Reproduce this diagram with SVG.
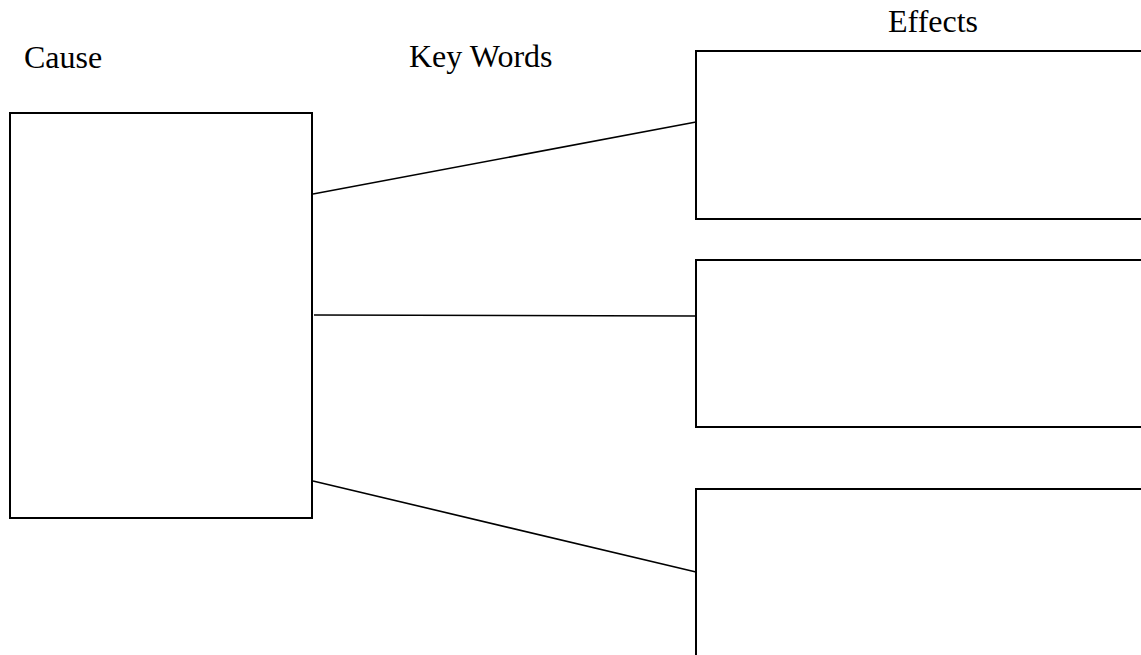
<svg xmlns="http://www.w3.org/2000/svg" width="1141" height="655" viewBox="0 0 1141 655">
<style>
.box{fill:#fff;stroke:#000;stroke-width:2}
.lbl{font-family:"Liberation Serif","Times New Roman",serif;font-size:32px;fill:#000}
.conn{stroke:#000;stroke-width:1.6;fill:none}
</style>
<rect width="1141" height="655" fill="#fff"/>
<g id="labels">
<text class="lbl" x="24" y="68">Cause</text>
<text class="lbl" x="409" y="67">Key Words</text>
<text class="lbl" x="888" y="32">Effects</text>
</g>
<g id="cause"><rect class="box" x="10" y="113" width="302" height="405"/></g>
<g id="effect1"><rect class="box" x="696" y="51" width="460" height="168"/></g>
<g id="effect2"><rect class="box" x="696" y="260" width="460" height="167"/></g>
<g id="effect3"><rect class="box" x="696" y="489" width="460" height="200"/></g>
<g id="connectors">
<line class="conn" x1="313" y1="194" x2="696" y2="122"/>
<line class="conn" x1="314" y1="315" x2="696" y2="316"/>
<line class="conn" x1="313" y1="481" x2="696" y2="572"/>
</g>
</svg>
